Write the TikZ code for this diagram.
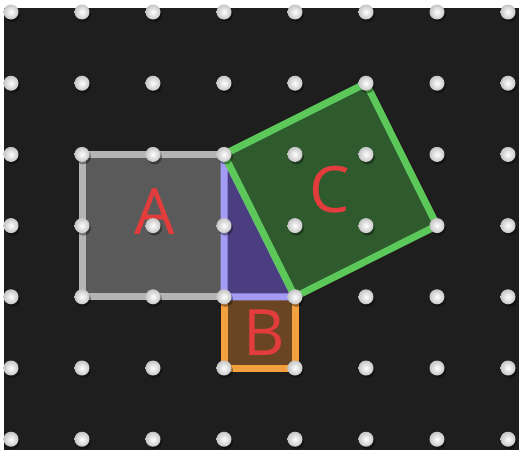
\documentclass[tikz,border=0pt]{standalone}
\usepackage{fontspec}
\setmainfont{Open Sans}
\definecolor{board}{HTML}{1E1E1E}
\definecolor{agray}{HTML}{B4B4B4}
\definecolor{afill}{HTML}{5A5A5A}
\definecolor{cgreen}{HTML}{5CC85A}
\definecolor{cfill}{HTML}{2E5A2E}
\definecolor{borange}{HTML}{F3A03E}
\definecolor{bfill}{HTML}{6A4524}
\definecolor{tline}{HTML}{A49CF4}
\definecolor{tfill}{HTML}{4A3E80}
\definecolor{lred}{HTML}{E23C3C}
\begin{document}
\begin{tikzpicture}[x=1pt,y=-1pt,
  peg/.style={circle,inner sep=0pt,minimum size=15pt,shading=radial,inner color=white,outer color=white!55!gray},
  band/.style={line width=7pt,line join=round,line cap=round},
  lbl/.style={text=lred,inner sep=0pt,font=\fontsize{64}{64}\selectfont}]
\useasboundingbox (0,0) rectangle (522,450);
\fill[white] (0,0) rectangle (522,450);
\fill[board] (4,8) rectangle (519,450);
\foreach \i in {0,...,7}{\foreach \j in {0,...,6}{
  \coordinate (p-\i-\j) at ({11+71*\i},{12+71.2*\j});}}
% A
\draw[band,draw=agray,fill=afill] (p-1-2) -- (p-3-2) -- (p-3-4) -- (p-1-4) -- cycle;
% B
\draw[band,draw=borange,fill=bfill] (p-3-4) -- (p-4-4) -- (p-4-5) -- (p-3-5) -- cycle;
% triangle
\draw[band,draw=tline,fill=tfill] (p-3-2) -- (p-3-4) -- (p-4-4) -- cycle;
% C
\draw[band,draw=cgreen,fill=cfill] (p-3-2) -- (p-5-1) -- (p-6-3) -- (p-4-4) -- cycle;
% labels
\node[lbl] (la) at (155,212) {A};
\node[lbl] (lb) at (264,333) {B};
\node[lbl] (lc) at (330,190) {C};
% pegs
\foreach \i in {0,...,7}{\foreach \j in {0,...,6}{
  \fill[black,opacity=0.35] ([shift={(1.5,2.5)}]p-\i-\j) circle (7.5pt);
  \node[peg] (g-\i-\j) at (p-\i-\j) {};}}
\end{tikzpicture}
\end{document}
